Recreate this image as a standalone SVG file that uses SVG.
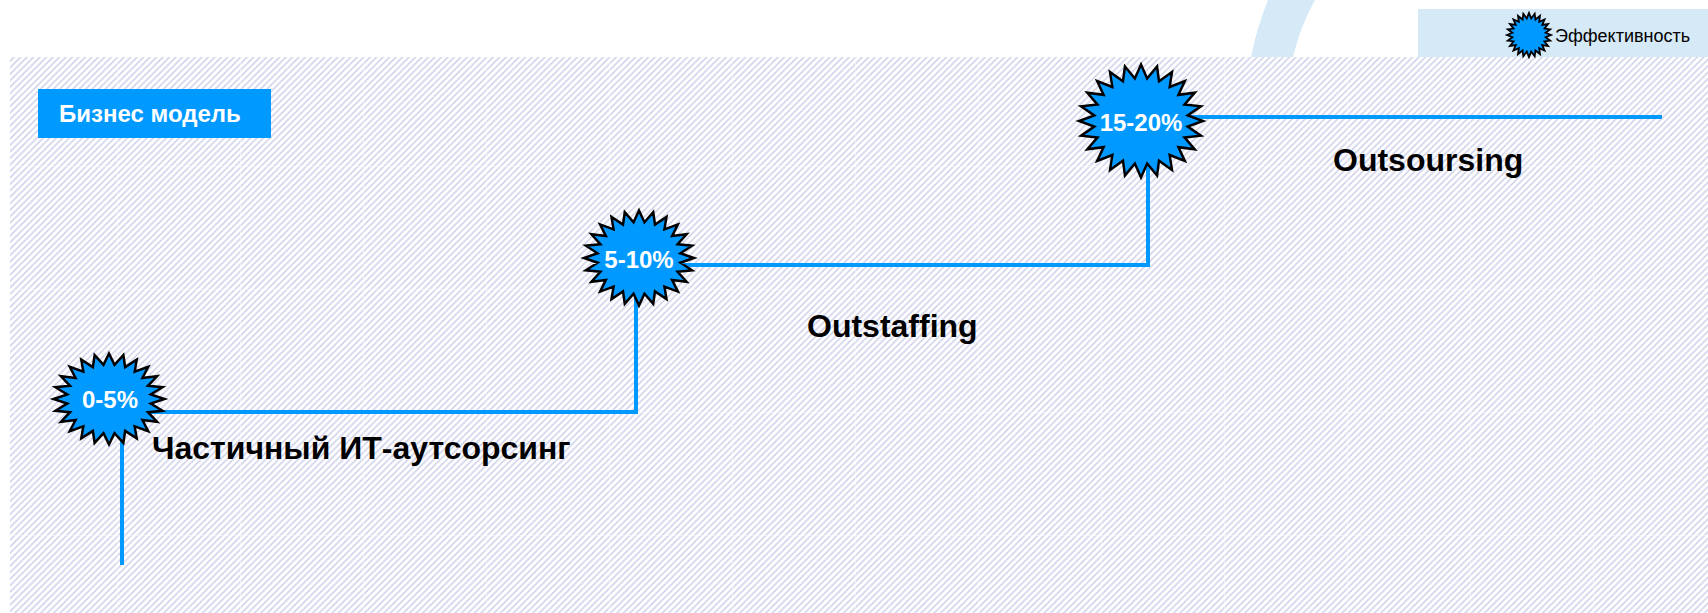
<svg xmlns="http://www.w3.org/2000/svg" xmlns:xlink="http://www.w3.org/1999/xlink" width="1708" height="613" viewBox="0 0 1708 613">
  <style>
    .lbl { font-family: "Liberation Sans", Arial, sans-serif; font-weight: bold; }
    .pct { font-family: "Liberation Sans", Arial, sans-serif; font-weight: bold; font-size: 24px; fill: #ffffff; text-anchor: middle; }
    .stage { font-family: "Liberation Sans", Arial, sans-serif; font-weight: bold; font-size: 32px; fill: #000000; }
    .conn { fill: none; stroke: #0099ff; stroke-width: 4; }
    .star { fill: #0099ff; stroke: #000000; stroke-width: 2.5; stroke-linejoin: miter; }
    .star-small { fill: #0099ff; stroke: #000000; stroke-width: 1.8; stroke-linejoin: miter; }
  </style>
  <defs>
    <pattern id="hatch" patternUnits="userSpaceOnUse" width="6.4737" height="6.4737">
      <path d="M-1,1 L1,-1 M0,6.4737 L6.4737,0 M5.4737,7.4737 L7.4737,5.4737" stroke="#cfd1ea" stroke-width="1.5"/>
    </pattern>
    <pattern id="seams" patternUnits="userSpaceOnUse" x="-6" y="43" width="123" height="123">
      <path d="M0.5,0 V123 M0,0.5 H123" stroke="#ffffff" stroke-width="1" stroke-opacity="0.4"/>
    </pattern>
    <path id="star24" vector-effect="non-scaling-stroke" d="M0,-100 L9.92,-75.34 L25.88,-96.59 L29.08,-70.21 L50,-86.6 L46.26,-60.3 L70.71,-70.71 L60.3,-46.26 L86.6,-50 L70.21,-29.08 L96.59,-25.88 L75.34,-9.92 L100,0 L75.34,9.92 L96.59,25.88 L70.21,29.08 L86.6,50 L60.3,46.26 L70.71,70.71 L46.26,60.3 L50,86.6 L29.08,70.21 L25.88,96.59 L9.92,75.34 L0,100 L-9.92,75.34 L-25.88,96.59 L-29.08,70.21 L-50,86.6 L-46.26,60.3 L-70.71,70.71 L-60.3,46.26 L-86.6,50 L-70.21,29.08 L-96.59,25.88 L-75.34,9.92 L-100,0 L-75.34,-9.92 L-96.59,-25.88 L-70.21,-29.08 L-86.6,-50 L-60.3,-46.26 L-70.71,-70.71 L-46.26,-60.3 L-50,-86.6 L-29.08,-70.21 L-25.88,-96.59 L-9.92,-75.34 Z"/>
  </defs>

  <rect x="0" y="0" width="1708" height="613" fill="#ffffff"/>

  <g id="background">
    <path d="M1268,0 L1315,0 Q1300,27 1293,57 L1251,57 Q1257,27 1268,0 Z" fill="#d5e9f7"/>
    <rect x="1418" y="9" width="290" height="48" fill="#d5e9f7"/>
    <rect x="10" y="57" width="1698" height="556" fill="url(#hatch)"/>
    <rect x="10" y="57" width="1698" height="556" fill="url(#seams)"/>
  </g>

  <g id="legend">
    <use xlink:href="#star24" class="star-small" transform="translate(1529,35) scale(0.22,0.22)"/>
    <text x="1555" y="42" font-family="Liberation Sans, Arial, sans-serif" font-size="18" fill="#000000">Эффективность</text>
  </g>

  <g id="node-business-model">
    <rect x="38" y="89" width="233" height="49" fill="#0099ff"/>
    <text x="59" y="122" class="lbl" font-size="24" fill="#ffffff">Бизнес модель</text>
  </g>

  <g id="connectors">
    <path class="conn" d="M122,565 V412 H636 V265 H1148 V117 H1662"/>
  </g>

  <g id="node-0-5">
    <use xlink:href="#star24" class="star" transform="translate(109,399) scale(0.555,0.455)"/>
    <text x="110" y="408" class="pct">0-5%</text>
  </g>

  <g id="node-5-10">
    <use xlink:href="#star24" class="star" transform="translate(639,258) scale(0.55,0.475)"/>
    <text x="639" y="268" class="pct">5-10%</text>
  </g>

  <g id="node-15-20">
    <use xlink:href="#star24" class="star" transform="translate(1141,121) scale(0.62,0.565)"/>
    <text x="1141" y="131" class="pct">15-20%</text>
  </g>

  <g id="stage-labels">
    <text x="152" y="459" class="stage">Частичный ИТ-аутсорсинг</text>
    <text x="807" y="337" class="stage">Outstaffing</text>
    <text x="1333" y="171" class="stage">Outsoursing</text>
  </g>
</svg>
